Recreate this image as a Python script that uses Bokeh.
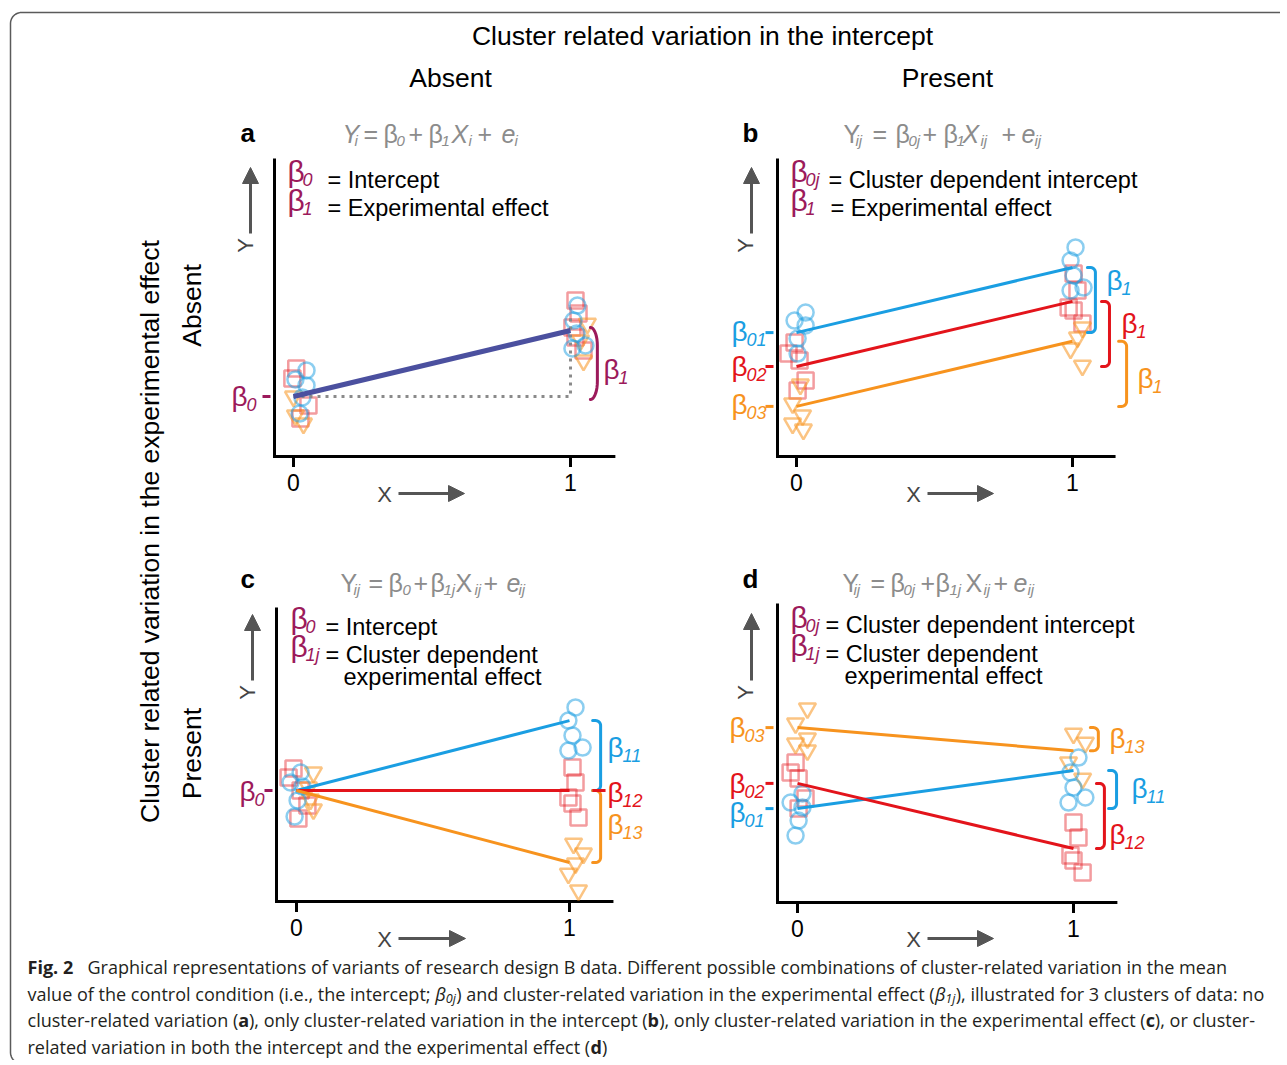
import numpy as np
from bokeh.plotting import figure
from bokeh.models import Range1d, Arrow, NormalHead
from bokeh.core.properties import value
from bokeh.embed import file_html
from bokeh.resources import INLINE

# ---------------- values ----------------
tick_vals = [0, 1]
tick_labels = ["0", "1"]

# (a) no cluster-related variation
a_b0 = [2.0]
a_b1 = [2.2]
a_circle_x = [0.047, 0.007, 0.047, 0.032, 0.022, 1.025, 1.011, 1.022, 1.007, 1.054]
a_circle_y = [2.87, 2.57, 2.37, 1.97, 1.43, 5.03, 4.53, 4.10, 3.60, 3.70]
a_square_x = [0.010, -0.004, 0.054, 0.025, 1.018, 1.029, 1.007, 1.018, 1.047]
a_square_y = [2.93, 2.60, 1.70, 1.27, 5.20, 4.77, 4.30, 3.97, 3.53]
a_triangle_x = [0.000, 0.007, 0.036, 1.061, 1.036, 1.047]
a_triangle_y = [2.00, 1.37, 1.10, 4.43, 3.87, 3.20]

# (b) variation in intercept (cluster order: blue, red, orange)
b_b0 = [4.13, 3.00, 1.67]
b_b1 = [2.17, 2.17, 2.17]
b_circle_x = [0.033, -0.007, 0.033, 0.004, 0.004, 1.011, 0.993, 1.004, 1.040, 0.993]
b_circle_y = [4.80, 4.53, 4.37, 3.93, 3.43, 6.97, 6.53, 6.03, 5.63, 5.53]
b_square_x = [-0.007, -0.029, 0.011, 0.033, 0.004, 1.004, 1.018, 0.986, 1.004, 1.036]
b_square_y = [3.80, 3.43, 3.20, 2.53, 2.20, 6.10, 5.53, 4.97, 4.87, 4.43]
b_triangle_x = [0.014, -0.014, 0.022, -0.014, 0.025, 1.036, 1.018, 0.993, 1.036]
b_triangle_y = [2.40, 1.77, 1.37, 1.10, 0.90, 4.30, 3.97, 3.60, 3.03]

# (c) variation in experimental effect
c_b0 = [3.70, 3.70, 3.70]
c_b1 = [2.33, 0.00, -2.40]
c_circle_x = [0.015, -0.022, 0.022, 0.004, -0.007, 1.022, 0.996, 1.011, 1.048, 0.996]
c_circle_y = [4.30, 3.97, 3.83, 3.37, 2.83, 6.47, 6.03, 5.53, 5.13, 5.03]
c_square_x = [-0.011, -0.029, 0.015, 0.040, 0.007, 1.011, 1.022, 0.996, 1.011, 1.033]
c_square_y = [4.43, 4.13, 3.70, 3.20, 2.77, 4.47, 3.97, 3.47, 3.27, 2.80]
c_triangle_x = [0.062, 0.044, 0.051, 0.062, 1.015, 1.051, 1.022, 0.996, 1.033]
c_triangle_y = [4.30, 3.80, 3.40, 3.07, 1.93, 1.60, 1.27, 0.93, 0.37]

# (d) variation in both
d_b0 = [3.13, 3.97, 5.83]
d_b1 = [1.27, -2.17, -0.77]
d_circle_x = [0.018, -0.025, 0.018, 0.004, -0.007, 1.018, 0.989, 1.000, 0.982, 1.043]
d_circle_y = [3.63, 3.33, 3.17, 2.73, 2.23, 4.83, 4.33, 3.83, 3.33, 3.50]
d_square_x = [-0.007, -0.025, 0.004, 0.029, 0.004, 1.000, 1.018, 0.989, 1.000, 1.033]
d_square_y = [4.67, 4.33, 4.13, 3.47, 3.13, 2.67, 2.17, 1.57, 1.40, 1.00]
d_triangle_x = [0.036, -0.007, 0.036, -0.007, 0.036, 1.000, 1.043, 0.982, 1.033]
d_triangle_y = [6.47, 5.97, 5.47, 5.30, 5.07, 5.63, 5.33, 4.67, 4.13]

# ---------------- styling / layout ----------------
BLUE, RED, ORANGE = "#1a9ee2", "#e3141b", "#f7931e"
CL = [BLUE, RED, ORANGE]
MAROON = "#9c1a5b"
NAVY = "#4b509f"
GRAY = "#8c8c8c"
DARK = "#555555"
CAPC = "#231f20"
FONT = "Liberation Sans"
SHIFT = 0.38      # measured drift of the alphabetic baseline, in em
MSHIFT = 0.13     # same for the middle baseline

W, H = 1280, 1060
X0, X1, Y0, Y1 = 0, W, 0, H   # canvas covers these picture pixels

PAN = {
    "a": dict(ox=293, oy=456, sx=277, sy=30, gap=19, top=9.93, right=1.162),
    "b": dict(ox=796, oy=456, sx=276, sy=30, gap=19, top=9.93, right=1.156),
    "c": dict(ox=296, oy=901, sx=273, sy=30, gap=20, top=9.80, right=1.161),
    "d": dict(ox=797, oy=902, sx=276, sy=30, gap=20, top=9.97, right=1.159),
}

p = figure(width=W, height=H, x_range=Range1d(X0, X1), y_range=Range1d(Y1, Y0),
           output_backend="svg", toolbar_location=None,
           x_axis_type=None, y_axis_type=None, min_border=0,
           outline_line_color=None, background_fill_color="white",
           border_fill_color="white")
p.extra_x_ranges = {k: Range1d((X0 - g["ox"]) / g["sx"], (X1 - g["ox"]) / g["sx"]) for k, g in PAN.items()}
p.extra_y_ranges = {k: Range1d((g["oy"] - Y1) / g["sy"], (g["oy"] - Y0) / g["sy"]) for k, g in PAN.items()}


def T(x, y, s, size, color="#000000", style="normal", align="left",
      baseline="alphabetic", angle=0.0, font=FONT):
    if angle == 0.0:
        y = y - (SHIFT if baseline == "alphabetic" else MSHIFT) * size
    else:
        x = x - (SHIFT if baseline == "alphabetic" else MSHIFT) * size
    p.text(x=[x], y=[y], text=[s], text_font=value(font),
           text_font_size=f"{size:.2f}px", text_color=color,
           text_font_style=style, text_align=align, text_baseline=baseline,
           angle=angle)


def beta(x, y, sub, color, bsize=28, ssize=18, dx=15, dy=4):
    T(x, y, "\u03b2", bsize, color)
    T(x + dx, y + dy, sub, ssize, color, style="italic")


def brace(k, xb, ya, yb, color, w_px=8, r_px=5, ry_px=None, width=3):
    g = PAN[k]
    top, bot = max(ya, yb), min(ya, yb)
    w = w_px / g["sx"]
    rx = min(w_px, r_px) / g["sx"]
    ry = (ry_px if ry_px else r_px) / g["sy"]
    t1 = np.linspace(np.pi / 2, 0, 10)
    t2 = np.linspace(0, -np.pi / 2, 10)
    xs = [xb - w] + list(xb - rx + rx * np.cos(t1)) + list(xb - rx + rx * np.cos(t2)) + [xb - w]
    ys = [top] + list(top - ry + ry * np.sin(t1)) + list(bot + ry + ry * np.sin(t2)) + [bot]
    p.line(xs, ys, line_color=color, line_width=width, line_cap="round",
           x_range_name=k, y_range_name=k)


def axes(k):
    g = PAN[k]
    ax = -g["gap"] / g["sx"]
    p.line([ax, ax, g["right"]], [g["top"], 0, 0], line_color="black",
           line_width=3, line_join="miter", x_range_name=k, y_range_name=k)
    p.segment(x0=tick_vals, y0=[0] * 2, x1=tick_vals, y1=[-0.35] * 2,
              line_color="black", line_width=3, x_range_name=k, y_range_name=k)
    lab_y = (-35 + SHIFT * 23) / g["sy"]
    p.text(x=tick_vals, y=[lab_y] * 2, text=tick_labels, text_font=value(FONT),
           text_font_size="23px", text_color="black", text_align="center",
           text_baseline="alphabetic", x_range_name=k, y_range_name=k)


def icept_ticks(k, b0, colors):
    g = PAN[k]
    ax = -g["gap"]
    p.segment(x0=[(ax - 12) / g["sx"]] * len(b0), y0=b0,
              x1=[(ax - 4) / g["sx"]] * len(b0), y1=b0,
              line_color=colors, line_width=3, x_range_name=k, y_range_name=k)


def points(k, cx, cy, sx_, sy_, tx, ty):
    rn = dict(x_range_name=k, y_range_name=k)
    p.scatter(sx_, sy_, marker="square", size=16, fill_color=None,
              line_color=RED, line_alpha=0.42, line_width=2.5, **rn)
    p.scatter(tx, ty, marker="inverted_triangle", size=17, fill_color=None,
              line_color=ORANGE, line_alpha=0.55, line_width=2.5, **rn)
    p.scatter(cx, cy, marker="circle", size=16, fill_color=None,
              line_color=BLUE, line_alpha=0.5, line_width=2.5, **rn)


def cluster_lines(k, b0, b1, colors, width=3):
    for i in range(len(b0)):
        p.line([0, 1], [b0[i], b0[i] + b1[i]], line_color=colors[i],
               line_width=width, x_range_name=k, y_range_name=k)


# ---------------- border ----------------
r = 11
ta = np.linspace(np.pi / 2, np.pi, 12)
tb = np.linspace(np.pi, 1.5 * np.pi, 12)
bx = [1300] + list(10 + r + r * np.cos(ta)) + list(10 + r + r * np.cos(tb)) + [1300]
by = [12] + list(12 + r - r * np.sin(ta)) + list(1052 - r * np.sin(tb)) + [1063]
p.line(bx, by, line_color="#5a5a5a", line_width=1.5)

# ---------------- headers ----------------
T(702, 46, "Cluster related variation in the intercept", 26.5, align="center")
T(450, 88, "Absent", 26.5, align="center")
T(947, 88, "Present", 26.5, align="center")
T(153, 531, "Cluster related variation in the experimental effect", 26.5,
  align="center", baseline="middle", angle=np.pi / 2)
T(195, 305, "Absent", 26.5, align="center", baseline="middle", angle=np.pi / 2)
T(195, 753, "Present", 26.5, align="center", baseline="middle", angle=np.pi / 2)

# ---------------- panel decorations ----------------
for k in PAN:
    axes(k)

T(240, 142, "a", 26, style="bold")
T(742, 142, "b", 26, style="bold")
T(240, 588, "c", 26, style="bold")
T(742, 588, "d", 26, style="bold")

# Y arrows and labels
for x, tail, tip, lx, ly in [(250, 233, 167, 248, 245), (751, 233, 167, 748, 245),
                              (252, 680, 614, 250, 692), (751, 680, 613, 748, 692)]:
    p.add_layout(Arrow(end=NormalHead(size=16, fill_color=DARK, line_color=DARK),
                       x_start=x, y_start=tail, x_end=x, y_end=tip,
                       line_color=DARK, line_width=3))
    T(lx, ly, "Y", 22, color="#444444", align="center", baseline="middle", angle=np.pi / 2)
# X arrows and labels
for y, tail, tip, lx in [(493, 398, 464, 384), (493, 927, 993, 913),
                          (938, 398, 465, 384), (938, 927, 993, 913)]:
    p.add_layout(Arrow(end=NormalHead(size=16, fill_color=DARK, line_color=DARK),
                       x_start=tail, y_start=y, x_end=tip, y_end=y,
                       line_color=DARK, line_width=3))
    T(lx, y + 9, "X", 22, color="#444444", align="center")


def equation(y, pieces):
    for x, s, kind in pieces:
        if kind == "s":
            T(x, y + 3, s, 15, GRAY, "italic")
        elif kind == "i":
            T(x, y, s, 25, GRAY, "italic")
        else:
            T(x, y, s, 25, GRAY)


B = "\u03b2"
equation(143, [(342, "Y", "i"), (354, "i", "s"), (363, "=", "n"), (383, B, "n"), (396, "0", "s"),
               (408, "+", "n"), (428, B, "n"), (441, "1", "s"), (451, "X", "i"), (468, "i", "s"),
               (477, "+", "n"), (501, "e", "i"), (514, "i", "s")])
equation(143, [(843, "Y", "n"), (855, "ij", "s"), (872, "=", "n"), (895, B, "n"), (908, "0j", "s"),
               (922, "+", "n"), (943, B, "n"), (956, "1", "s"), (962, "X", "i"), (980, "ij", "s"),
               (1001, "+", "n"), (1021, "e", "i"), (1034, "ij", "s")])
equation(592, [(340, "Y", "n"), (353, "ij", "s"), (368, "=", "n"), (388, B, "n"), (402, "0", "s"),
               (413, "+", "n"), (430, B, "n"), (443, "1j", "s"), (455, "X", "n"), (474, "ij", "s"),
               (483, "+", "n"), (506, "e", "i"), (518, "ij", "s")])
equation(592, [(842, "Y", "n"), (853, "ij", "s"), (870, "=", "n"), (890, B, "n"), (903, "0j", "s"),
               (920, "+", "n"), (935, B, "n"), (949, "1j", "s"), (965, "X", "n"), (983, "ij", "s"),
               (993, "+", "n"), (1013, "e", "i"), (1027, "ij", "s")])

# legends inside the panels
LS = 23.5
beta(287, 182, "0", MAROON, 30); T(327, 188, "= Intercept", LS)
beta(287, 211, "1", MAROON, 30); T(327, 216, "= Experimental effect", LS)
beta(790, 182, "0j", MAROON, 30); T(828, 188, "= Cluster dependent intercept", LS)
beta(790, 211, "1", MAROON, 30); T(830, 216, "= Experimental effect", LS)
beta(290, 629, "0", MAROON, 30); T(325, 635, "= Intercept", LS)
beta(290, 657, "1j", MAROON, 30); T(325, 663, "= Cluster dependent", LS)
T(343, 685, "experimental effect", LS)
beta(790, 628, "0j", MAROON, 30); T(825, 633, "= Cluster dependent intercept", LS)
beta(790, 656, "1j", MAROON, 30); T(825, 662, "= Cluster dependent", LS)
T(844, 684, "experimental effect", LS)

# ---------------- panel a ----------------
points("a", a_circle_x, a_circle_y, a_square_x, a_square_y, a_triangle_x, a_triangle_y)
p.line([0, 1, 1], [a_b0[0], a_b0[0], a_b0[0] + a_b1[0] + 0.5], line_color="#8a8a8a",
       line_width=3, line_dash="3 5", x_range_name="a", y_range_name="a")
cluster_lines("a", a_b0, a_b1, [NAVY], width=5)
icept_ticks("a", a_b0, [MAROON])
brace("a", 1.097, a_b0[0] - 0.1, a_b0[0] + a_b1[0] + 0.1, MAROON, w_px=7, r_px=7, ry_px=18)
beta(231, 407, "0", MAROON)
beta(603, 380, "1", MAROON)

# ---------------- panel b ----------------
points("b", b_circle_x, b_circle_y, b_square_x, b_square_y, b_triangle_x, b_triangle_y)
cluster_lines("b", b_b0, b_b1, CL)
icept_ticks("b", b_b0, CL)
for i, xb in enumerate([1.083, 1.134, 1.196]):
    brace("b", xb, b_b0[i], b_b0[i] + b_b1[i], CL[i])
beta(731, 342, "01", BLUE); beta(731, 377, "02", RED); beta(731, 415, "03", ORANGE)
beta(1106, 291, "1", BLUE); beta(1121, 334, "1", RED); beta(1137, 389, "1", ORANGE)

# ---------------- panel c ----------------
points("c", c_circle_x, c_circle_y, c_square_x, c_square_y, c_triangle_x, c_triangle_y)
cluster_lines("c", c_b0, c_b1, CL)
icept_ticks("c", c_b0[:1], [MAROON])
brace("c", 1.114, c_b0[0], c_b0[0] + c_b1[0], BLUE)
brace("c", 1.114, c_b0[2], c_b0[2] + c_b1[2], ORANGE)
p.line([1.084, 1.132], [c_b0[1] + c_b1[1]] * 2, line_color=RED, line_width=3,
       x_range_name="c", y_range_name="c")
beta(239, 802, "0", MAROON)
beta(607, 758, "11", BLUE); beta(607, 803, "12", RED); beta(607, 835, "13", ORANGE)

# ---------------- panel d ----------------
points("d", d_circle_x, d_circle_y, d_square_x, d_square_y, d_triangle_x, d_triangle_y)
cluster_lines("d", d_b0, d_b1, CL)
icept_ticks("d", d_b0, CL)
for i, xb in enumerate([1.156, 1.112, 1.090]):
    brace("d", xb, d_b0[i], d_b0[i] + d_b1[i], CL[i])
beta(729, 738, "03", ORANGE); beta(729, 794, "02", RED); beta(729, 823, "01", BLUE)
beta(1109, 749, "13", ORANGE); beta(1131, 799, "11", BLUE); beta(1109, 845, "12", RED)

# ---------------- caption ----------------
OSW = dict(zip("abcdefghijklmnopqrstuvwxyz",
               [1139, 1255, 975, 1255, 1149, 694, 1122, 1257, 518, 518, 1075, 518, 1905,
                1257, 1237, 1255, 1255, 836, 977, 723, 1257, 1026, 1593, 1073, 1028, 981]))
OSW.update(dict(zip("ABCDEFGHIJKLMNOPQRSTUVWXYZ",
                    [1296, 1327, 1292, 1493, 1139, 1057, 1491, 1511, 571, 547, 1257, 1063, 1849,
                     1540, 1595, 1233, 1595, 1266, 1100, 1124, 1505, 1233, 1874, 1202, 1163, 1141])))
OSW.update({c: 1171 for c in "0123456789"})
OSW.update({" ": 532, ",": 502, ".": 545, ";": 545, ":": 545, "-": 659, "(": 606, ")": 606,
            "\u03b2": 1230})


def os_em(s):
    return sum(OSW.get(ch, 1150) for ch in s) / 2048.0


cap1_rest = ("Graphical representations of variants of research design B data. Different "
             "possible combinations of cluster-related variation in the mean")
CAP = (1228 - 87) / os_em(cap1_rest)
CF = "Open Sans"


def cap_line(y, pieces, x=27.0):
    for s, kind in pieces:
        if kind == "gap":
            x = s
        elif kind == "n":
            T(x, y, s, CAP, CAPC, font=CF); x += os_em(s) * CAP
        elif kind == "b":
            T(x, y, s, CAP, CAPC, "bold", font=CF); x += os_em(s) * CAP * 1.06
        elif kind == "i":
            T(x, y, s, CAP, CAPC, "italic", font=CF); x += os_em(s) * CAP * 0.96
        elif kind == "s":
            T(x, y + 0.15 * CAP, s, 0.7 * CAP, CAPC, "italic", font=CF); x += os_em(s) * 0.7 * CAP


cap_line(973, [("Fig. 2", "b"), (87, "gap"), (cap1_rest, "n")])
cap_line(1000, [("value of the control condition (i.e., the intercept; ", "n"), (B, "i"), ("0j", "s"),
                (") and cluster-related variation in the experimental effect (", "n"), (B, "i"),
                ("1j", "s"), ("), illustrated for 3 clusters of data: no", "n")])
cap_line(1026, [("cluster-related variation (", "n"), ("a", "b"),
                ("), only cluster-related variation in the intercept (", "n"), ("b", "b"),
                ("), only cluster-related variation in the experimental effect (", "n"), ("c", "b"),
                ("), or cluster-", "n")])
cap_line(1053, [("related variation in both the intercept and the experimental effect (", "n"),
                ("d", "b"), (")", "n")])

open("out.html", "w").write(file_html(p, INLINE))
